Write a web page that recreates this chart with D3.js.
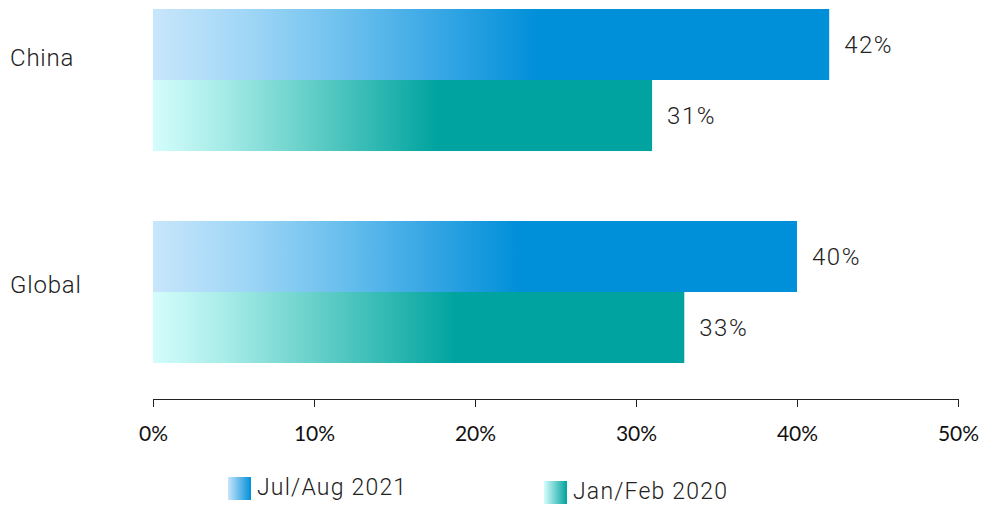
<!DOCTYPE html>
<html>
<head>
<meta charset="utf-8">
<script src="https://cdn.jsdelivr.net/npm/d3@7/dist/d3.min.js"></script>
<style>
  html, body { margin: 0; padding: 0; background: #fff; }
  svg { display: block; }
</style>
</head>
<body>
<svg id="chart" width="982" height="505"></svg>
<script>
// Share of respondents, by region and survey wave
const regions = ["China", "Global"];
const seriesNames = ["Jul/Aug 2021", "Jan/Feb 2020"];
const jul2021 = [42, 40];
const jan2020 = [31, 33];
const tickValues = [0, 10, 20, 30, 40, 50];
const tickLabels = ["0%", "10%", "20%", "30%", "40%", "50%"];

const svg = d3.select("#chart");

// gradient colours per series: pale at the base, full hue from ~57% of the bar
const palettes = [
  { id: "gBlue", stops: ["#c8e6fb", "#9fd6f6", "#6cc0ee", "#36a6e4", "#008fd9"] },
  { id: "gTeal", stops: ["#d4fdfc", "#a5ebe7", "#6fd3cd", "#37bbb5", "#00a39f"] }
];

const defs = svg.append("defs");
palettes.forEach(p => {
  const g = defs.append("linearGradient")
    .attr("id", p.id).attr("x1", "0%").attr("x2", "100%").attr("y1", "0%").attr("y2", "0%");
  p.stops.forEach((c, k) => {
    g.append("stop").attr("offset", (k / (p.stops.length - 1)) * 57 + "%").attr("stop-color", c);
  });
  g.append("stop").attr("offset", "100%").attr("stop-color", p.stops[p.stops.length - 1]);
  // swatch version: full-width ramp
  const s = defs.append("linearGradient")
    .attr("id", p.id + "Sw").attr("x1", "0%").attr("x2", "100%").attr("y1", "0%").attr("y2", "0%");
  s.append("stop").attr("offset", "0%").attr("stop-color", p.stops[0]);
  s.append("stop").attr("offset", "100%").attr("stop-color", p.stops[p.stops.length - 1]);
});

const x = d3.scaleLinear().domain([0, 50]).range([153, 958]);

const y = d3.scaleBand().domain(regions).range([9, 363]).paddingInner(0.33).paddingOuter(0);
const sub = d3.scaleBand().domain([0, 1]).range([0, y.bandwidth()]);

const seriesValues = [jul2021, jan2020];
const textFont = "Roboto, 'Noto Sans', sans-serif";

// bars
regions.forEach((r, i) => {
  seriesValues.forEach((vals, s) => {
    const yy = y(r) + sub(s);
    svg.append("rect")
      .attr("x", x(0))
      .attr("y", yy)
      .attr("width", x(vals[i]) - x(0))
      .attr("height", sub.bandwidth())
      .attr("fill", `url(#${palettes[s].id})`);
    svg.append("text")
      .attr("x", x(vals[i]) + 15)
      .attr("y", yy + sub.bandwidth() / 2)
      .attr("dy", "0.35em")
      .attr("font-family", textFont)
      .attr("font-weight", 300)
      .attr("font-size", 24)
      .attr("fill", "#222")
      .attr("letter-spacing", "1.5px")
      .text(vals[i] + "%");
  });
});

// category labels
const labelShift = [-22, -7];
regions.forEach((r, i) => {
  svg.append("text")
    .attr("x", 10)
    .attr("y", y(r) + y.bandwidth() / 2 + labelShift[i])
    .attr("dy", "0.35em")
    .attr("font-family", textFont)
    .attr("font-weight", 300)
    .attr("font-size", 24)
    .attr("fill", "#222")
    .attr("letter-spacing", "0.8px")
    .text(r);
});

// x axis
const axis = d3.axisBottom(x)
  .tickValues(tickValues)
  .tickFormat((d, i) => tickLabels[i])
  .tickSize(8)
  .tickSizeOuter(0);

const ax = svg.append("g")
  .attr("transform", "translate(0,399)")
  .call(axis);
ax.select(".domain").attr("stroke", "#222").attr("stroke-width", 1);
ax.selectAll(".tick line").attr("stroke", "#222");
ax.selectAll(".tick text")
  .attr("y", 27)
  .attr("font-family", "Lato, 'Open Sans', sans-serif")
  .attr("font-size", 21)
  .attr("fill", "#111");

// legend
const legendPos = [{ x: 228, y: 477 }, { x: 544, y: 481 }];
seriesNames.forEach((n, s) => {
  const g = svg.append("g").attr("transform", `translate(${legendPos[s].x},${legendPos[s].y})`);
  g.append("rect").attr("width", 23).attr("height", 23).attr("fill", `url(#${palettes[s].id}Sw)`);
  g.append("text")
    .attr("x", 29)
    .attr("y", 10)
    .attr("dy", "0.35em")
    .attr("font-family", textFont)
    .attr("font-weight", 300)
    .attr("font-size", 23)
    .attr("fill", "#222")
    .attr("letter-spacing", "1.2px")
    .text(n);
});
</script>
</body>
</html>
